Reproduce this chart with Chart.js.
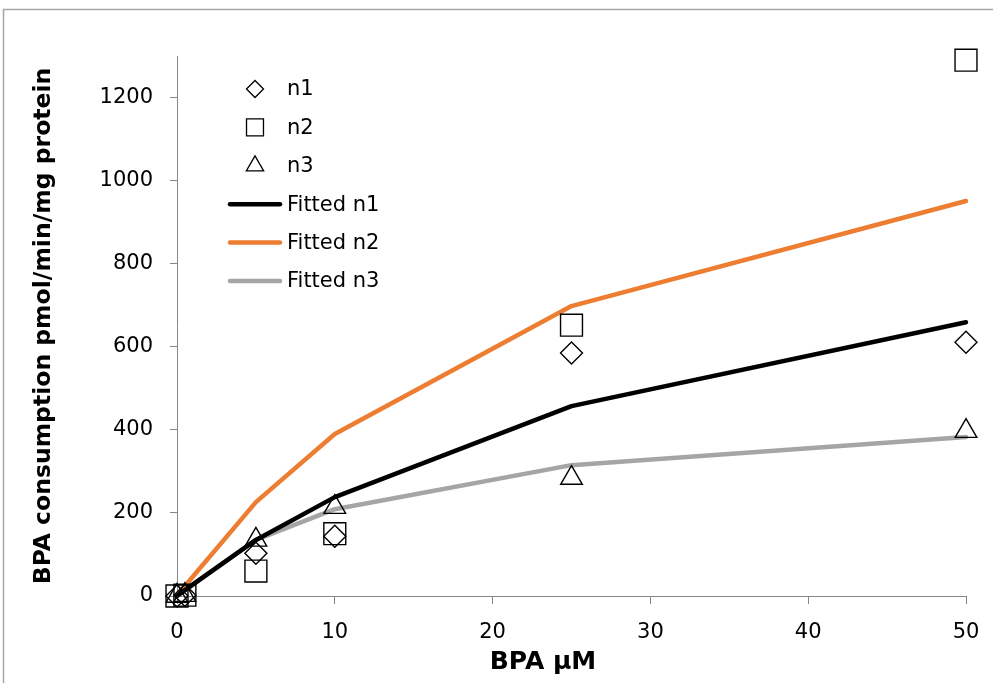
<!DOCTYPE html>
<html>
<head>
<meta charset="utf-8">
<script src="https://cdn.jsdelivr.net/npm/chart.js@4"></script>
<style>
  html, body { margin: 0; padding: 0; background: #fff; }
  #wrap { width: 993px; height: 683px; position: relative; }
</style>
</head>
<body>
<div id="wrap"><canvas id="chart" width="993" height="683"></canvas></div>
<script>
// BPA concentration (uM)
const bpaConc = [0, 0.5, 5, 10, 25, 50];

// measured consumption, pmol/min/mg protein
const n1 = [0, 2, 103, 144, 585, 611];
const n2 = [0, 2, 60, 150, 652, 1290];
const n3 = [0, 2, 135, 214, 284, 397];

// fitted curves
const fitN1 = [0, 14, 135, 238, 457, 659];
const fitN2 = [0, 24, 226, 390, 698, 951];
const fitN3 = [0, 14, 135, 209, 315, 383];

const xTicks = [0, 10, 20, 30, 40, 50];
const yTicks = [0, 200, 400, 600, 800, 1000, 1200];

const FONT = "'DejaVu Sans', sans-serif";
const AXIS_GREY = '#868686';

function pts(ys) {
  return bpaConc.map((x, i) => ({ x: x, y: ys[i] }));
}

const legendItems = [
  { text: 'n1', marker: 'rectRot', r: 8.5 },
  { text: 'n2', marker: 'rect', r: 12 },
  { text: 'n3', marker: 'triangle', r: 10 },
  { text: 'Fitted n1', line: '#000000' },
  { text: 'Fitted n2', line: '#ED7D31' },
  { text: 'Fitted n3', line: '#A5A5A5' }
];

// frame, x title and the legend inside the plot
const decor = {
  id: 'decor',
  afterDraw(chart) {
    const ctx = chart.ctx;
    ctx.save();
    ctx.strokeStyle = '#a6a6a6';
    ctx.lineWidth = 1.5;
    ctx.strokeRect(3.5, 9.5, 1100, 800);

    ctx.fillStyle = '#000';
    ctx.font = "bold 25px " + FONT;
    ctx.textAlign = 'center';
    ctx.textBaseline = 'middle';
    ctx.fillText('BPA \u03BCM', 543, 662);

    ctx.font = "21px " + FONT;
    ctx.textAlign = 'left';
    legendItems.forEach((it, i) => {
      const y = 89 + i * 38.4;
      if (it.line) {
        ctx.strokeStyle = it.line;
        ctx.lineWidth = 4.5;
        ctx.lineCap = 'round';
        ctx.beginPath();
        ctx.moveTo(230, y);
        ctx.lineTo(280, y);
        ctx.stroke();
      } else {
        ctx.strokeStyle = '#000';
        ctx.fillStyle = '#fff';
        ctx.lineWidth = 1.3;
        Chart.helpers.drawPoint(ctx, { pointStyle: it.marker, radius: it.r, rotation: 0, borderWidth: 1.3 }, 255, y);
      }
      ctx.fillStyle = '#000';
      ctx.fillText(it.text, 287, y + 1);
    });
    ctx.restore();
  }
};

function scatterSet(label, data, style, r) {
  return {
    type: 'scatter',
    label: label,
    data: pts(data),
    pointStyle: style,
    pointRadius: r,
    pointHoverRadius: r,
    pointBorderColor: '#000',
    pointBackgroundColor: 'rgba(0,0,0,0)',
    pointBorderWidth: 1.4,
    showLine: false,
    clip: false
  };
}

function lineSet(label, data, color) {
  return {
    type: 'line',
    label: label,
    data: pts(data),
    borderColor: color,
    backgroundColor: color,
    borderWidth: 4.5,
    borderCapStyle: 'round',
    borderJoinStyle: 'round',
    pointRadius: 0,
    tension: 0,
    fill: false,
    clip: false
  };
}

new Chart(document.getElementById('chart'), {
  data: {
    datasets: [
      scatterSet('n1', n1, 'rectRot', 11),
      scatterSet('n2', n2, 'rect', 15.5),
      scatterSet('n3', n3, 'triangle', 12.5),
      lineSet('Fitted n1', fitN1, '#000000'),
      lineSet('Fitted n2', fitN2, '#ED7D31'),
      lineSet('Fitted n3', fitN3, '#A5A5A5')
    ]
  },
  options: {
    responsive: false,
    animation: false,
    layout: { padding: { left: 0, top: 56, right: 27, bottom: 0 } },
    plugins: {
      legend: { display: false },
      tooltip: { enabled: false }
    },
    scales: {
      x: {
        type: 'linear',
        min: 0,
        max: 50,
        afterFit: s => { s.height = 87; s.paddingLeft = 0; s.paddingRight = 0; },
        afterBuildTicks: s => { s.ticks = xTicks.map(v => ({ value: v })); },
        grid: { drawOnChartArea: false, tickLength: 8, color: AXIS_GREY },
        border: { color: AXIS_GREY, width: 1 },
        ticks: { color: '#000', padding: 16, font: { family: FONT, size: 21 }, callback: v => String(v) }
      },
      y: {
        type: 'linear',
        min: 0,
        max: 1300,
        afterFit: s => { s.width = 177; },
        afterBuildTicks: s => { s.ticks = yTicks.map(v => ({ value: v })); },
        grid: { drawOnChartArea: false, tickLength: 7, color: AXIS_GREY },
        border: { color: AXIS_GREY, width: 1 },
        ticks: { color: '#000', padding: 17, font: { family: FONT, size: 21 }, callback: v => String(v) },
        title: {
          display: true,
          text: 'BPA consumption pmol/min/mg protein',
          color: '#000',
          padding: { top: 30, bottom: 0 },
          font: { family: FONT, size: 23.5, weight: 'bold' }
        }
      }
    }
  },
  plugins: [decor]
});
</script>
</body>
</html>
